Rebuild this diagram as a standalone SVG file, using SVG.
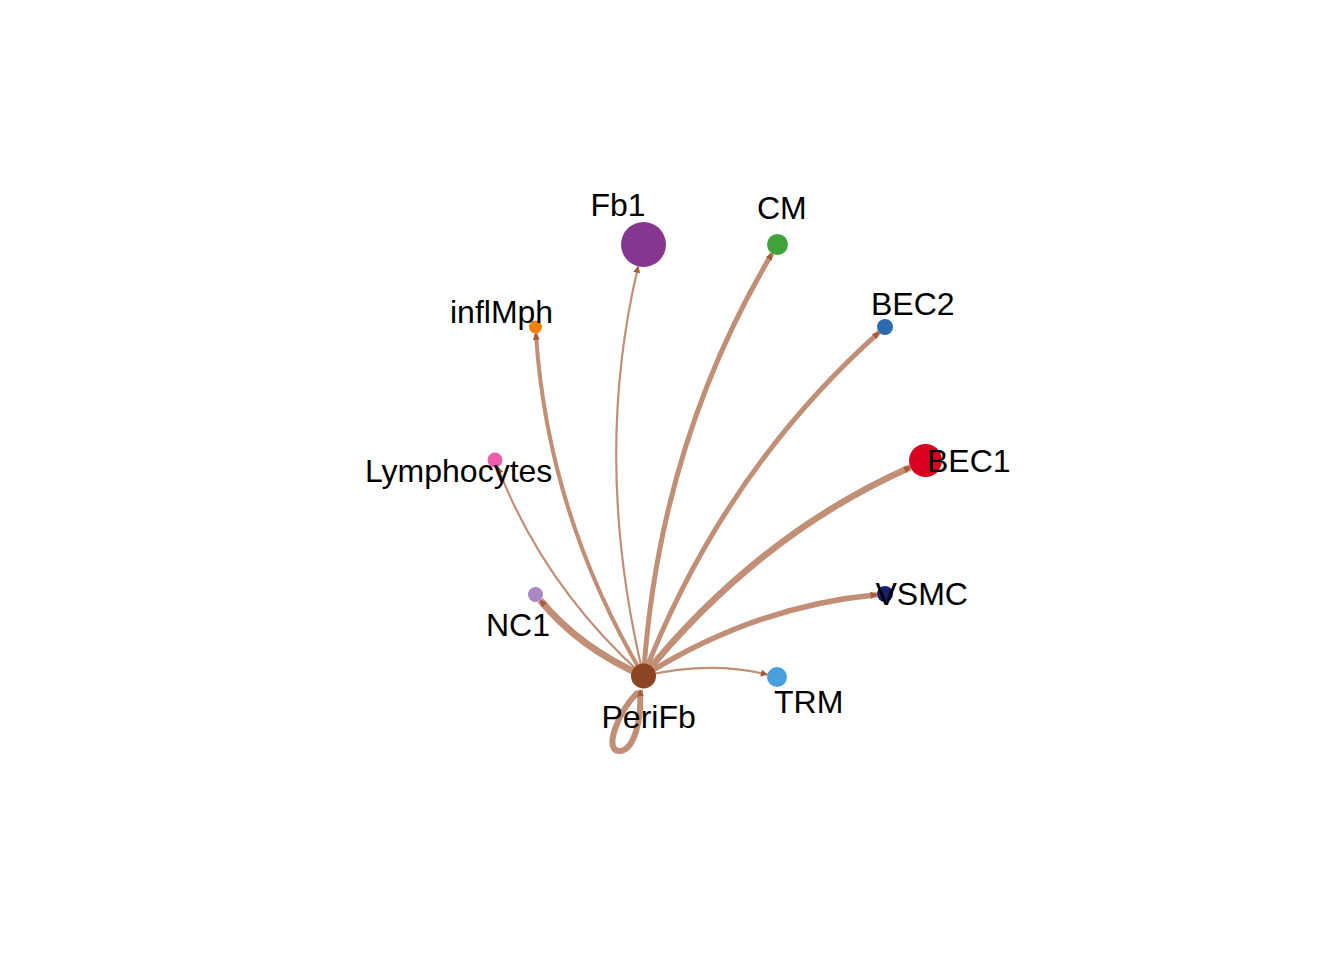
<svg xmlns="http://www.w3.org/2000/svg" width="1344" height="960" viewBox="0 0 1344 960">
<style>
.e{fill:none;stroke:#C18E76;stroke-linecap:butt}
.l{font-family:"Liberation Sans",Arial,Helvetica,sans-serif;font-size:32px;fill:#000}
</style>
<defs>
<marker id="ah" viewBox="0 0 10 10" refX="9" refY="5" markerWidth="9" markerHeight="7" markerUnits="userSpaceOnUse" orient="auto">
<path d="M0,0 L10,5 L0,10 z" fill="#A65A38"/>
</marker>
</defs>
<rect width="1344" height="960" fill="#fff"/>
<g id="edges">
<path class="e" stroke-width="2.2" d="M643.5,676 Q591.7,460.25 638.2,266.4" marker-end="url(#ah)"/>
<path class="e" stroke-width="4" d="M643.5,676 Q547.7,514.5 535.9,333.5" marker-end="url(#ah)"/>
<path class="e" stroke-width="2.2" d="M643.5,676 Q543.3,585.8 497.7,467" marker-end="url(#ah)"/>
<path class="e" stroke-width="7" d="M643.5,676 Q579.7,648.2 540.3,600.3" marker-end="url(#ah)"/>
<path class="e" stroke-width="5" d="M643.5,676 Q658.7,444.2 772.1,253.5" marker-end="url(#ah)"/>
<path class="e" stroke-width="5" d="M643.5,676 Q722.4,472.5 879,332.3" marker-end="url(#ah)"/>
<path class="e" stroke-width="6.5" d="M643.5,676 Q758.6,534.4 910.4,467.2" marker-end="url(#ah)"/>
<path class="e" stroke-width="5.5" d="M643.5,676 Q754.4,606 877,594.7" marker-end="url(#ah)"/>
<path class="e" stroke-width="2.2" d="M643.5,676 Q710.4,660.5 767.3,674.6" marker-end="url(#ah)"/>
<path class="e" stroke-width="6" d="M638,692 C617,713 603,752 620,751 C634,750 642,720 640,690" marker-end="url(#ah)"/>
</g>
<g id="node-Fb1"><circle cx="643.5" cy="244.5" r="22.5" fill="#85368F"/></g>
<g id="node-CM"><circle cx="777.5" cy="244.5" r="10.5" fill="#3FA23A"/></g>
<g id="node-BEC2"><circle cx="885" cy="327" r="8" fill="#2B6AAE"/></g>
<g id="node-BEC1"><circle cx="925.5" cy="460.5" r="16.5" fill="#DC0020"/></g>
<g id="node-VSMC"><circle cx="885" cy="594" r="8" fill="#1A1F6B"/></g>
<g id="node-TRM"><circle cx="777" cy="677" r="10" fill="#4AA0DE"/></g>
<g id="node-NC1"><circle cx="535.5" cy="594.5" r="7.5" fill="#A987C2"/></g>
<g id="node-Lymphocytes"><circle cx="495" cy="460" r="7.5" fill="#EE5DAE"/></g>
<g id="node-inflMph"><circle cx="535.5" cy="327" r="6.5" fill="#F0820C"/></g>
<g id="node-PeriFb"><circle cx="643.5" cy="676" r="12.5" fill="#8B4520"/></g>
<g id="labels">
<text class="l" x="590.5" y="216">Fb1</text>
<text class="l" x="757" y="219">CM</text>
<text class="l" x="871" y="315">BEC2</text>
<text class="l" x="927" y="472">BEC1</text>
<text class="l" x="875.5" y="605">VSMC</text>
<text class="l" x="774" y="713">TRM</text>
<text class="l" x="486" y="636">NC1</text>
<text class="l" x="365" y="482">Lymphocytes</text>
<text class="l" x="450" y="323">inflMph</text>
<text class="l" x="601.5" y="728">PeriFb</text>
</g>
</svg>
